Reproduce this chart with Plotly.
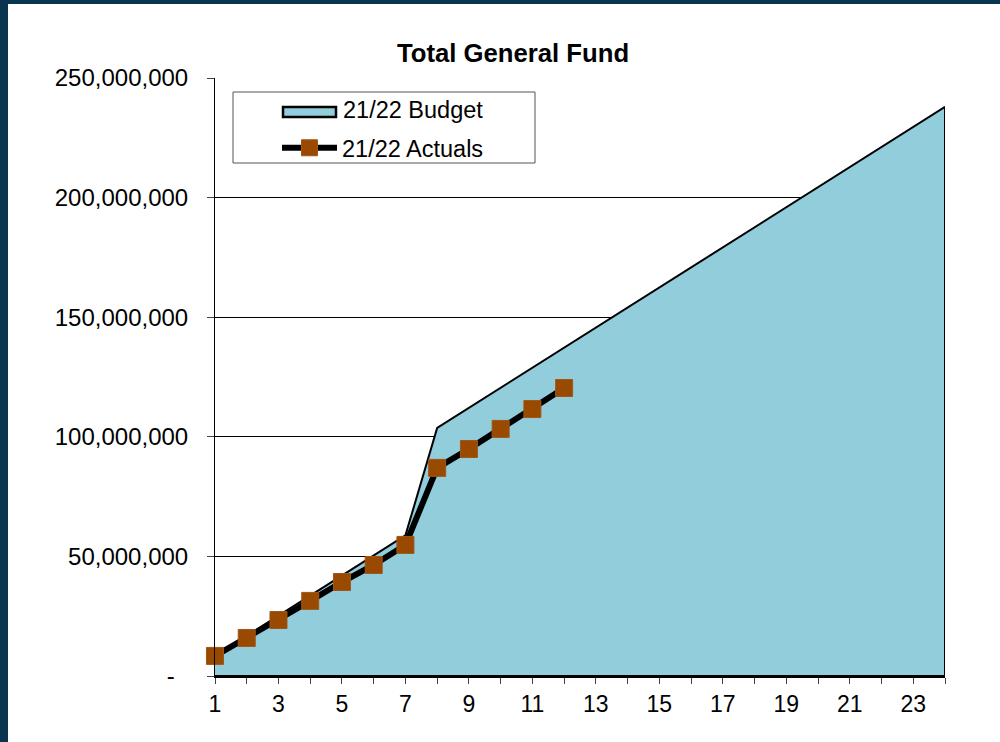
import plotly.graph_objects as go

months = list(range(1, 25))
budget = [8.4e6, 16.8e6, 25.2e6, 33.6e6, 42.0e6, 50.4e6, 58.8e6, 103.7e6,
          112.1e6, 120.5e6, 128.9e6, 137.3e6, 145.6e6, 154.0e6, 162.4e6, 170.8e6,
          179.2e6, 187.6e6, 196.0e6, 204.4e6, 212.8e6, 221.2e6, 229.5e6, 237.9e6]
actual_months = list(range(1, 13))
actuals = [8.4e6, 15.9e6, 23.4e6, 31.4e6, 39.3e6, 46.4e6, 54.8e6, 87.0e6,
           94.9e6, 103.3e6, 111.6e6, 120.4e6]

y_ticks = [0, 50e6, 100e6, 150e6, 200e6, 250e6]
y_labels = ["-\u00a0\u00a0", "50,000,000", "100,000,000", "150,000,000", "200,000,000", "250,000,000"]
x_labels = [str(m) if m % 2 == 1 else "" for m in months]

FONT = "Liberation Sans, Arial, sans-serif"
DARK = "#0a3550"
FILL = "#92cddc"

# plot area in pixels: x 215..945, y 78..676
def px_x(p):
    return (p - 215) / 730

def px_y(p):
    return (676 - p) / 598

fig = go.Figure()
fig.add_trace(go.Scatter(
    x=months + [months[-1], months[0]], y=budget + [0, 0],
    fill="toself", fillcolor=FILL, mode="lines",
    line=dict(color="black", width=2), name="21/22 Budget", showlegend=False))
fig.add_trace(go.Scatter(
    x=actual_months, y=actuals, mode="lines+markers",
    line=dict(color="black", width=6),
    marker=dict(symbol="square", size=17, color="#994a00", line=dict(color="#a0561a", width=1)),
    name="21/22 Actuals", cliponaxis=False))

shapes = [
    dict(type="rect", xref="paper", yref="paper", x0=px_x(0), x1=px_x(8), y0=px_y(742), y1=px_y(0),
         fillcolor=DARK, line_width=0, layer="below"),
    dict(type="rect", xref="paper", yref="paper", x0=px_x(0), x1=px_x(1000), y0=px_y(4), y1=px_y(0),
         fillcolor=DARK, line_width=0, layer="below"),
    # legend box
    dict(type="rect", xref="paper", yref="paper", x0=px_x(233), x1=px_x(535), y0=px_y(163), y1=px_y(92),
         fillcolor="white", line=dict(color="#555555", width=1), layer="above"),
    # budget swatch
    dict(type="rect", xref="paper", yref="paper", x0=px_x(283), x1=px_x(336), y0=px_y(117), y1=px_y(107),
         fillcolor=FILL, line=dict(color="black", width=2.5), layer="above"),
]

fig.update_layout(
    width=1000, height=742,
    margin=dict(l=215, r=55, t=78, b=66),
    paper_bgcolor="white", plot_bgcolor="white",
    font=dict(family=FONT, size=23, color="black"),
    title=dict(text="<b>Total General Fund</b>", x=0.513, xref="container", xanchor="center",
               y=1 - 53 / 742, yref="container", yanchor="middle",
               font=dict(family=FONT, size=25.7, color="black")),
    shapes=shapes,
    annotations=[dict(text="21/22 Budget", xref="paper", yref="paper", x=px_x(341), y=px_y(110),
                      xanchor="left", yanchor="middle", showarrow=False,
                      font=dict(family=FONT, size=23.5, color="black"))],
    legend=dict(x=px_x(277), y=px_y(126), xanchor="left", yanchor="top",
                bgcolor="rgba(0,0,0,0)", borderwidth=0, itemwidth=55,
                font=dict(family=FONT, size=23.5, color="black")),
    showlegend=True,
)
fig.update_xaxes(range=[1, 24], tickvals=months, ticktext=x_labels,
                 ticks="outside", ticklen=6, tickcolor="#444444",
                 tickfont=dict(size=23),
                 showline=True, linecolor="black", linewidth=2,
                 showgrid=False, zeroline=False)
fig.update_yaxes(range=[0, 250e6], tickvals=y_ticks, ticktext=y_labels,
                 ticks="outside", ticklen=7, tickcolor="#444444", ticklabelstandoff=14,
                 tickfont=dict(size=24),
                 showline=True, linecolor="black", linewidth=1,
                 showgrid=True, gridcolor="black", gridwidth=1, zeroline=False)

fig.write_html("out.html", config={"displayModeBar": False},
               post_script="document.body.style.margin='0';document.body.style.overflow='hidden';")
